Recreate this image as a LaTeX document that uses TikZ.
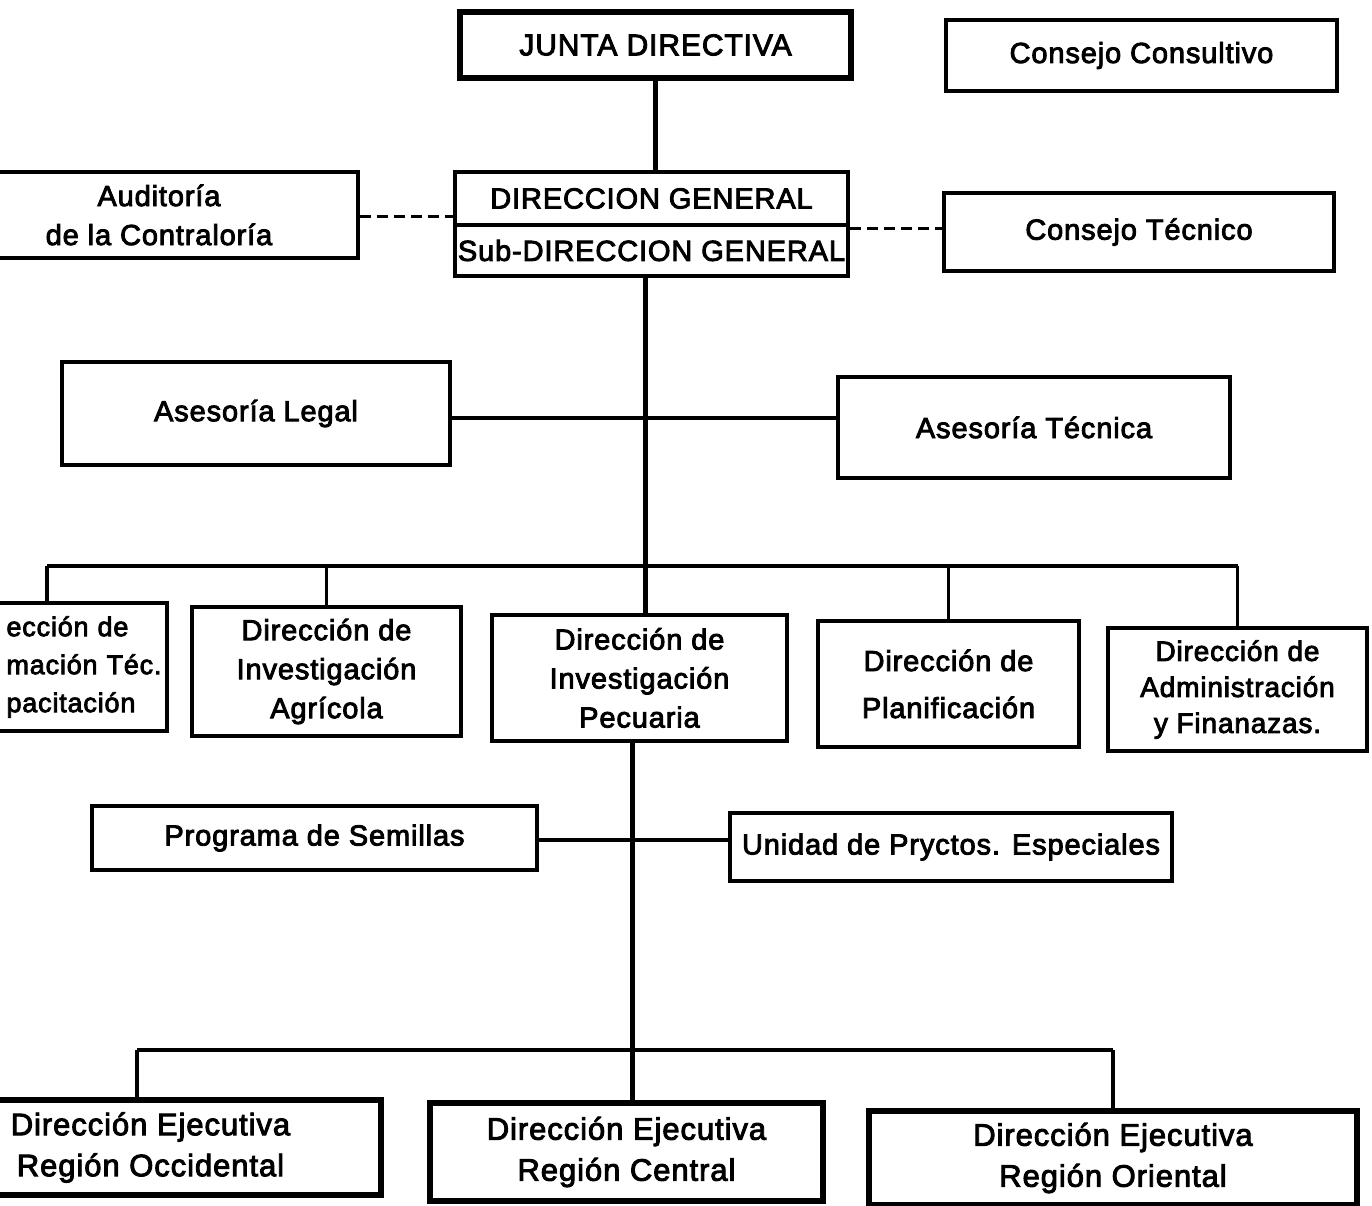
\documentclass[tikz,border=0pt]{standalone}
\usepackage{fontspec}
\newfontfamily\chartfont{Liberation Sans}[FakeBold=3,LetterSpace=3]
\begin{document}
\begin{tikzpicture}[x=1pt,y=-1pt,
  every node/.style={font=\chartfont\fontsize{29}{39}\selectfont},
  box/.style={draw, line width=3.5pt, inner sep=0pt, align=center},
  thickbox/.style={box, line width=6pt},
  regionbox/.style={thickbox, font=\chartfont\fontsize{31}{41}\selectfont},
  conn/.style={line width=3.5pt},
  spine/.style={line width=5pt},
  dashconn/.style={line width=3pt, dash pattern=on 11pt off 6pt}]
\clip (0,0) rectangle (1372,1206);
\fill[white] (0,0) rectangle (1372,1206);

% top
\node[thickbox, minimum width=391pt, minimum height=66pt, font=\chartfont\fontsize{30}{39}\selectfont] (jd) at (655.5,45) {JUNTA DIRECTIVA};
\node[box, minimum width=391pt, minimum height=71pt] (cc) at (1141.5,55.5) {Consejo Consultivo};

\node[box, minimum width=398pt, minimum height=86pt] (aud) at (159,215) {Auditoría\\de la Contraloría};
\node[box, minimum width=393pt, minimum height=53pt] (dg1) at (651.5,198.5) {DIRECCION GENERAL};
\node[box, minimum width=393pt, minimum height=51pt] (dg2) at (651.5,250.5) {Sub-DIRECCION GENERAL};
\node[box, minimum width=390pt, minimum height=78pt] (ct) at (1139,232) {Consejo Técnico};

\node[box, minimum width=388pt, minimum height=103pt] (al) at (256,413.5) {Asesoría Legal};
\node[box, minimum width=392pt, minimum height=101pt] (at) at (1034,427.5) {Asesoría Técnica};

% directions row
\node[box, minimum width=171pt, minimum height=128pt, text width=150pt, align=left,
      font=\chartfont\fontsize{27}{38}\selectfont] (form) at (81.5,667)
      {\mbox{ección de}\\\mbox{mación Téc.}\\\mbox{pacitación}};
\node[box, minimum width=269pt, minimum height=129pt] (agri) at (326.5,671.5) {Dirección de\\Investigación\\Agrícola};
\node[box, minimum width=295pt, minimum height=126pt] (pec) at (639.5,678) {Dirección de\\Investigación\\Pecuaria};
\node[box, minimum width=261pt, minimum height=126pt] (plan) at (948.5,684) {Dirección de\\[8pt]Planificación};
\node[box, minimum width=259pt, minimum height=123pt, font=\chartfont\fontsize{28}{36}\selectfont] (adm) at (1237.5,689.5) {Dirección de\\Administración\\y Finanazas.};

\node[box, minimum width=445pt, minimum height=64pt] (sem) at (314.5,838) {Programa de Semillas};
\node[box, minimum width=442pt, minimum height=68pt] (uni) at (951,847) {Unidad de Pryctos. Especiales};

\node[regionbox, minimum width=461pt, minimum height=95pt] (occ) at (150.5,1147.5) {Dirección Ejecutiva\\Región Occidental};
\node[regionbox, minimum width=393pt, minimum height=98pt] (cen) at (626.5,1152) {Dirección Ejecutiva\\Región Central};
\node[regionbox, minimum width=488pt, minimum height=94pt] (ori) at (1113,1158) {Dirección Ejecutiva\\Región Oriental};

% connectors
\coordinate (sp1) at (645,0);
\coordinate (sp2) at (632,0);
\coordinate (bus1) at (0,566);
\coordinate (bus2) at (0,1050);

\draw[spine] (jd.south) -- (jd.south |- dg1.north);
\draw[spine] (dg2.south -| sp1) -- (pec.north -| sp1);
\draw[spine] (pec.south -| sp2) -- (cen.north -| sp2);

\draw[dashconn] (aud.east |- 0,217) -- (dg1.west |- 0,217);
\draw[dashconn] (dg1.east |- 0,229) -- (ct.west |- 0,229);

\draw[conn] (al.east |- 0,418) -- (at.west |- 0,418);

\draw[conn] (47,0 |- bus1) -- (adm.north |- bus1);
\draw[conn] (47,0 |- bus1) -- (47,0 |- form.north);
\draw[conn] (agri.north |- bus1) -- (agri.north);
\draw[conn] (plan.north |- bus1) -- (plan.north);
\draw[conn] (adm.north |- bus1) -- (adm.north);

\draw[conn] (sem.east |- 0,840) -- (uni.west |- 0,840);

\draw[conn] (137,0 |- bus2) -- (ori.north |- bus2);
\draw[conn] (137,0 |- bus2) -- (137,0 |- occ.north);
\draw[conn] (ori.north |- bus2) -- (ori.north);
\end{tikzpicture}
\end{document}
